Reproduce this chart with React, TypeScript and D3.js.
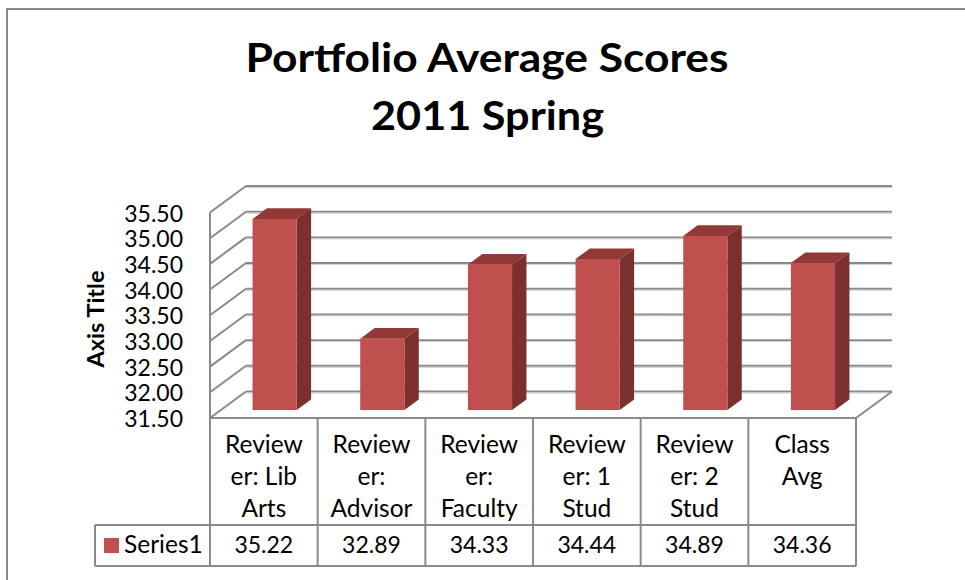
import React from "react";
import * as d3 from "d3";

const categories = ["Reviewer: Lib Arts", "Reviewer: Advisor", "Reviewer: Faculty", "Reviewer: 1 Stud", "Reviewer: 2 Stud", "Class Avg"];
const categoryLines = [
  ["Review", "er: Lib", "Arts"],
  ["Review", "er:", "Advisor"],
  ["Review", "er:", "Faculty"],
  ["Review", "er: 1", "Stud"],
  ["Review", "er: 2", "Stud"],
  ["Class", "Avg"],
];
const values = [35.22, 32.89, 34.33, 34.44, 34.89, 34.36];
const valueLabels = ["35.22", "32.89", "34.33", "34.44", "34.89", "34.36"];
const yTicks = [31.5, 32, 32.5, 33, 33.5, 34, 34.5, 35, 35.5];
const seriesName = "Series1";
const titleLines = ["Portfolio Average Scores", "2011 Spring"];
const axisTitle = "Axis Title";

const FONT = "Lato, 'Open Sans', sans-serif";

export default function App() {
  const W = 965, H = 580;
  const x0 = 210, x1 = 856;
  const dX = 36, dY = -26.5;
  const yBase = 418;
  const y = d3.scaleLinear().domain([31.5, 35.5]).range([yBase, 212.5]);
  const band = d3.scaleBand<string>().domain(categories).range([x0, x1]);
  const bw = band.bandwidth();
  const barW = bw * 0.41;
  const d0 = 0.3, dd = 0.4;
  const grid = "#8a8a8a";
  const rowTop = 525, rowBot = 566, legendLeft = 95;

  const pts = (a: number[][]) => a.map((p) => p.join(",")).join(" ");

  return (
    <svg width={W} height={H} style={{ position: "absolute", left: 0, top: 0, background: "#fff" }} fontFamily={FONT}>
      <rect x={0} y={0} width={W} height={H} fill="#fff" />
      <rect x={7} y={9} width={W + 50} height={H + 50} fill="none" stroke={grid} strokeWidth={2} />

      {/* Title */}
      <text x={487} y={72} textAnchor="middle" fontSize={41} fontWeight="bold" fill="#000" textLength={483} lengthAdjust="spacingAndGlyphs">{titleLines[0]}</text>
      <text x={487.5} y={130} textAnchor="middle" fontSize={41} fontWeight="bold" fill="#000" textLength={233} lengthAdjust="spacingAndGlyphs">{titleLines[1]}</text>

      {/* Gridlines: left wall + back wall */}
      {yTicks.map((t) => (
        <g key={t}>
          <line x1={x0} y1={y(t)} x2={x0 + dX} y2={y(t) + dY} stroke={grid} strokeWidth={2} />
          <line x1={x0 + dX} y1={y(t) + dY} x2={x1 + dX} y2={y(t) + dY} stroke={grid} strokeWidth={2} />
          <line x1={x0 + dX} y1={y(t) + dY + 1.5} x2={x1 + dX} y2={y(t) + dY + 1.5} stroke="#d0d0d0" strokeWidth={1} />
        </g>
      ))}
      {/* front left edge */}
      <line x1={x0} y1={y(35.5)} x2={x0} y2={rowBot} stroke={grid} strokeWidth={2} />
      {/* floor */}
      <line x1={x1} y1={yBase} x2={x1 + dX} y2={yBase + dY} stroke={grid} strokeWidth={2} />

      {/* Tick labels */}
      {yTicks.map((t) => (
        <text key={"l" + t} x={183} y={y(t) + 9} textAnchor="end" fontSize={23} fill="#000">{t.toFixed(2)}</text>
      ))}
      <text transform={`translate(104,319) rotate(-90)`} textAnchor="middle" fontSize={23.5} fontWeight="bold" fill="#000">{axisTitle}</text>

      {/* Bars */}
      {categories.map((c, i) => {
        const v = values[i];
        const cx = (band(c) as number) + bw / 2;
        const xl = cx - barW / 2 + d0 * dX;
        const yt = y(v) + d0 * dY;
        const yb = y(31.5) + d0 * dY;
        const xr = xl + barW;
        const ox = dd * dX, oy = dd * dY;
        return (
          <g key={c}>
            <polygon points={pts([[xr, yt], [xr + ox, yt + oy], [xr + ox, yb + oy], [xr, yb]])} fill="#7b302e" />
            <polygon points={pts([[xl, yt], [xr, yt], [xr + ox, yt + oy], [xl + ox, yt + oy]])} fill="#923836" />
            <rect x={xl} y={yt} width={barW} height={yb - yt} fill="#c0504d" />
          </g>
        );
      })}

      {/* Data table */}
      <line x1={x0} y1={yBase} x2={x1} y2={yBase} stroke={grid} strokeWidth={2} />
      <line x1={legendLeft} y1={rowTop} x2={x1} y2={rowTop} stroke={grid} strokeWidth={2} />
      <line x1={legendLeft} y1={rowBot} x2={x1} y2={rowBot} stroke={grid} strokeWidth={2} />
      <line x1={legendLeft} y1={rowTop} x2={legendLeft} y2={rowBot} stroke={grid} strokeWidth={2} />
      {categories.map((c) => (
        <line key={"v" + c} x1={(band(c) as number) + bw} y1={yBase} x2={(band(c) as number) + bw} y2={rowBot} stroke={grid} strokeWidth={2} />
      ))}
      {categories.map((c, i) => {
        const cx = (band(c) as number) + bw / 2;
        return (
          <g key={"t" + c}>
            {categoryLines[i].map((ln, j) => (
              <text key={j} x={cx} y={453 + j * 32} textAnchor="middle" fontSize={24.5} fill="#000">{ln}</text>
            ))}
            <text x={cx} y={553} textAnchor="middle" fontSize={23} fill="#000">{valueLabels[i]}</text>
          </g>
        );
      })}
      <rect x={104} y={538} width={15} height={15} fill="#c0504d" />
      <text x={124} y={553} fontSize={24.5} fill="#000">{seriesName}</text>
    </svg>
  );
}
